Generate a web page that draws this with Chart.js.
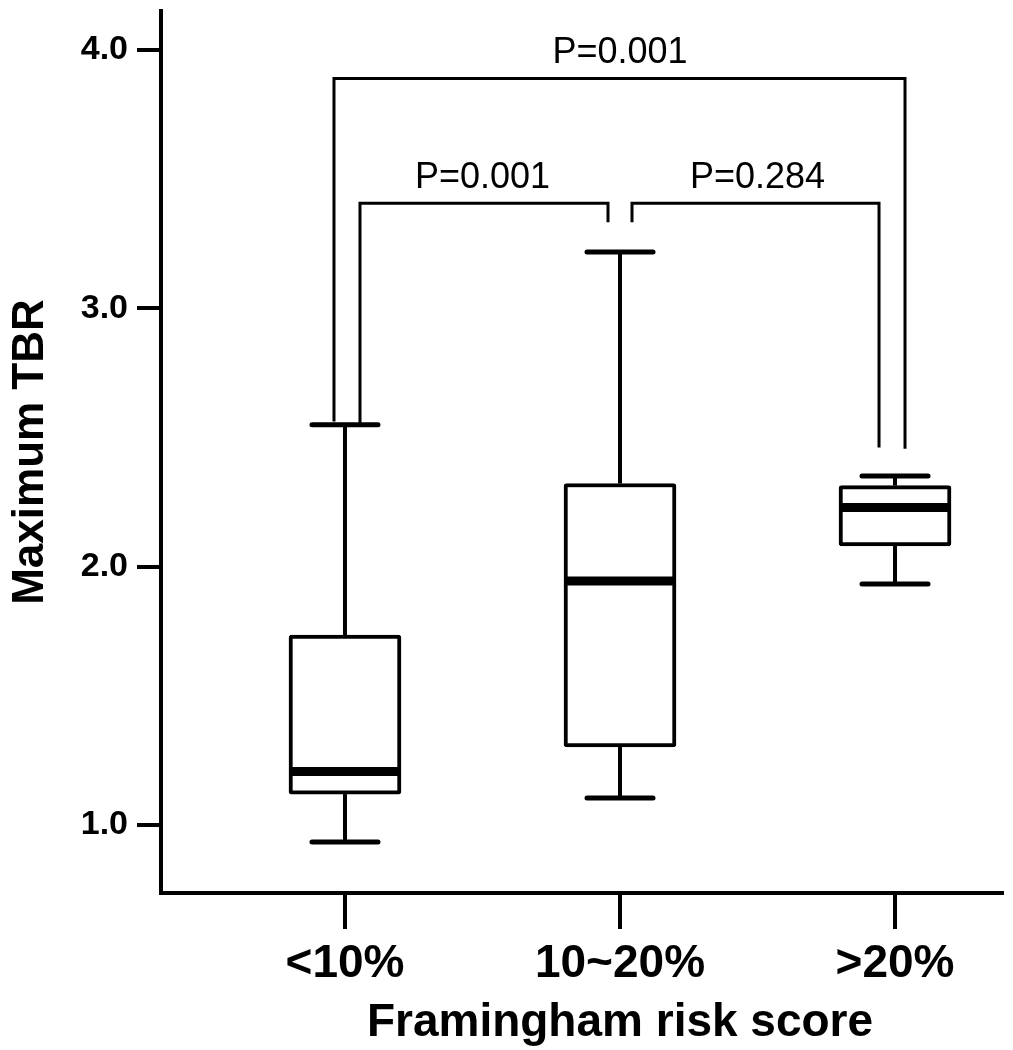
<!DOCTYPE html>
<html>
<head>
<meta charset="utf-8">
<title>Maximum TBR by Framingham risk score</title>
<script src="https://cdn.jsdelivr.net/npm/chart.js@4.4.1/dist/chart.umd.min.js"></script>
<style>
    html, body { margin: 0; padding: 0; background: #fff; }
</style>
</head>
<body>
<canvas id="boxChart" width="1013" height="1050"></canvas>
<script>
// Framingham risk groups
const categories = ['<10%', '10~20%', '>20%'];
const xTitle = 'Framingham risk score';

// Box plot statistics (Maximum TBR)
const whiskerLow = [0.934, 1.105, 1.933];
const q1Values = [1.12, 1.302, 2.08];
const medians = [1.207, 1.945, 2.229];
const q3Values = [1.735, 2.322, 2.314];
const whiskerHigh = [2.549, 3.218, 2.351];
const yTicks = [1.0, 2.0, 3.0, 4.0];

// Comparison brackets: groups compared, bar level, leg ends, p-value
const bracketFrom = [1, 1, 2];
const bracketTo = [3, 2, 3];
const bracketLevel = [3.89, 3.407, 3.407];
const bracketLegFrom = [2.562, 2.55, 3.333];
const bracketLegTo = [2.457, 3.333, 2.461];
const pLabels = ['P=0.001', 'P=0.001', 'P=0.284'];

document.addEventListener('DOMContentLoaded', () => {
    const FONT = '"Liberation Sans", Arial, Helvetica, sans-serif';
    const BOX_PX = 112;
    const CAP_HALF = 33;
    // small pixel nudges so the bracket legs sit beside each other, as in the figure
    const legOffsets = [[-11, 10], [15, -12], [12, -16]];

    const line = (ctx, x1, y1, x2, y2) => {
        ctx.beginPath();
        ctx.moveTo(x1, y1);
        ctx.lineTo(x2, y2);
        ctx.stroke();
    };

    // keep tick labels from shrinking the plot area
    const noPadding = (s) => {
        s.paddingTop = 0;
        s.paddingBottom = 0;
        s.paddingLeft = 0;
        s.paddingRight = 0;
    };

    // whiskers, caps, medians, brackets and the x title
    const boxExtras = {
        id: 'boxExtras',
        afterDatasetsDraw(chart) {
            const { ctx, scales: { x, y } } = chart;
            ctx.save();
            ctx.strokeStyle = '#000';
            categories.forEach((c, i) => {
                const cx = x.getPixelForValue(i + 1);
                const yHi = y.getPixelForValue(whiskerHigh[i]);
                const yLo = y.getPixelForValue(whiskerLow[i]);

                ctx.lineCap = 'butt';
                ctx.lineWidth = 4;
                line(ctx, cx, y.getPixelForValue(q3Values[i]), cx, yHi);
                line(ctx, cx, y.getPixelForValue(q1Values[i]), cx, yLo);

                ctx.lineCap = 'round';
                ctx.lineWidth = 5;
                line(ctx, cx - CAP_HALF, yHi, cx + CAP_HALF, yHi);
                line(ctx, cx - CAP_HALF, yLo, cx + CAP_HALF, yLo);

                ctx.lineCap = 'butt';
                ctx.lineWidth = 9;
                const ym = y.getPixelForValue(medians[i]);
                line(ctx, cx - BOX_PX / 2 + 2, ym, cx + BOX_PX / 2 - 2, ym);
            });

            // significance brackets with p-values
            ctx.lineWidth = 3;
            ctx.lineJoin = 'miter';
            ctx.lineCap = 'butt';
            ctx.fillStyle = '#000';
            ctx.font = `36px ${FONT}`;
            ctx.textAlign = 'center';
            ctx.textBaseline = 'middle';
            pLabels.forEach((label, i) => {
                const xa = x.getPixelForValue(bracketFrom[i]);
                const xb = x.getPixelForValue(bracketTo[i]);
                const yl = y.getPixelForValue(bracketLevel[i]);
                ctx.beginPath();
                ctx.moveTo(xa + legOffsets[i][0], y.getPixelForValue(bracketLegFrom[i]));
                ctx.lineTo(xa + legOffsets[i][0], yl);
                ctx.lineTo(xb + legOffsets[i][1], yl);
                ctx.lineTo(xb + legOffsets[i][1], y.getPixelForValue(bracketLegTo[i]));
                ctx.stroke();
                ctx.fillText(label, (xa + xb) / 2, yl - 25);
            });

            // x title sits under the middle group, not the middle of the axis
            ctx.font = `bold 46px ${FONT}`;
            ctx.textBaseline = 'alphabetic';
            ctx.fillText(xTitle, x.getPixelForValue(2), 1036);
            ctx.restore();
        }
    };

    const ctx = document.getElementById('boxChart').getContext('2d');
    new Chart(ctx, {
        type: 'bar',
        data: {
            datasets: [{
                data: categories.map((c, i) => ({ x: i + 1, y: [q1Values[i], q3Values[i]] })),
                backgroundColor: '#fff',
                borderColor: '#000',
                borderWidth: 4,
                borderSkipped: false,
                borderRadius: 3,
                barThickness: BOX_PX
            }]
        },
        options: {
            responsive: false,
            animation: false,
            layout: { padding: { top: 11, right: 11, left: 0, bottom: 0 } },
            plugins: { legend: { display: false }, tooltip: { enabled: false } },
            scales: {
                x: {
                    type: 'linear',
                    min: 0.331,
                    max: 3.389,
                    offset: false,
                    afterBuildTicks: (s) => { s.ticks = categories.map((c, i) => ({ value: i + 1 })); },
                    afterFit: (s) => { s.height = 157; noPadding(s); },
                    ticks: {
                        color: '#000',
                        font: { family: FONT, size: 46, weight: 'bold', lineHeight: 1 },
                        padding: 12,
                        maxRotation: 0,
                        autoSkip: false,
                        callback: (v, i) => categories[i]
                    },
                    grid: { offset: false, drawOnChartArea: false, tickLength: 36, lineWidth: 4, color: '#000' },
                    border: { width: 4, color: '#000' },
                    title: { display: false }
                },
                y: {
                    min: 0.737,
                    max: 4.151,
                    afterBuildTicks: (s) => { s.ticks = yTicks.map(v => ({ value: v })); },
                    afterFit: (s) => { s.width = 161; noPadding(s); },
                    ticks: {
                        color: '#000',
                        font: { family: FONT, size: 34, weight: 'bold', lineHeight: 1 },
                        padding: 9,
                        callback: (v) => Number(v).toFixed(1)
                    },
                    grid: { drawOnChartArea: false, tickLength: 24, lineWidth: 4, color: '#000' },
                    border: { width: 4, color: '#000' },
                    title: {
                        display: true,
                        text: 'Maximum TBR',
                        color: '#000',
                        font: { family: FONT, size: 44, weight: 'bold', lineHeight: 1 },
                        padding: { top: 9, bottom: 0 }
                    }
                }
            }
        },
        plugins: [boxExtras]
    });
});
</script>
</body>
</html>
